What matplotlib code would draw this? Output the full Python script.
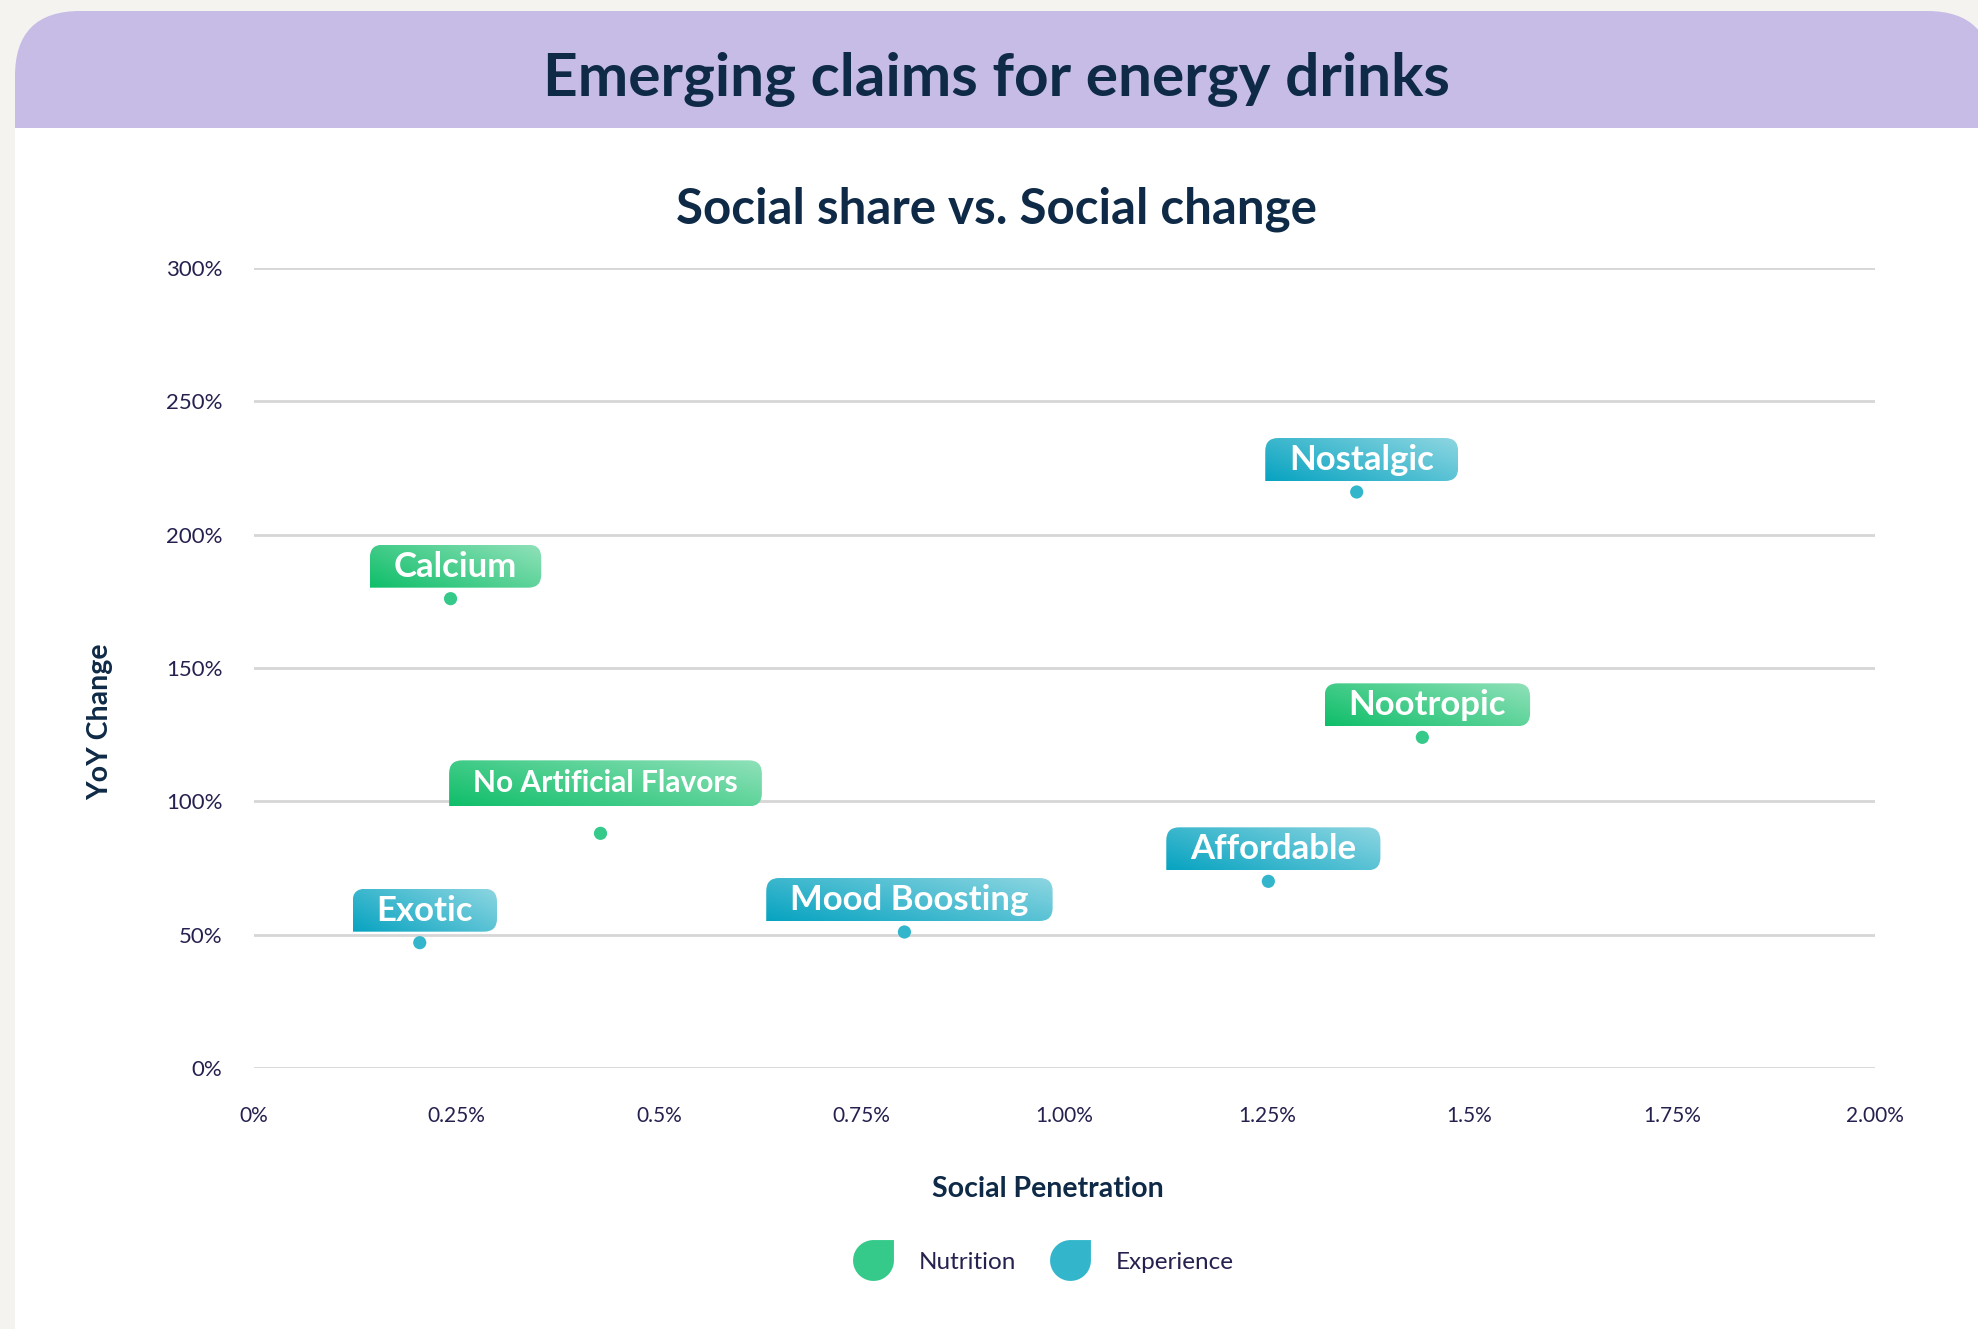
import numpy as np
import matplotlib
matplotlib.use('Agg')
import matplotlib.pyplot as plt
from matplotlib.path import Path
from matplotlib.patches import PathPatch, FancyBboxPatch, Rectangle
from matplotlib.colors import LinearSegmentedColormap
from matplotlib.lines import Line2D
from matplotlib.markers import MarkerStyle

plt.rcParams['font.family'] = ['Lato', 'DejaVu Sans']

# --- data ---
claims = ['Calcium', 'Nootropic', 'No Artificial Flavors',
          'Nostalgic', 'Affordable', 'Mood Boosting', 'Exotic']
groups = ['Nutrition', 'Nutrition', 'Nutrition',
          'Experience', 'Experience', 'Experience', 'Experience']
penetration = [0.243, 1.442, 0.428, 1.361, 1.252, 0.803, 0.205]   # social penetration, %
yoy_change = [176, 124, 88, 216, 70, 51, 47]                       # YoY change, %

x_ticks = [0, 0.25, 0.5, 0.75, 1.0, 1.25, 1.5, 1.75, 2.0]
x_ticklabels = ['0%', '0.25%', '0.5%', '0.75%', '1.00%', '1.25%', '1.5%', '1.75%', '2.00%']
y_ticks = [0, 50, 100, 150, 200, 250, 300]
y_ticklabels = ['0%', '50%', '100%', '150%', '200%', '250%', '300%']

# --- styling ---
NAVY = '#0e2a47'
INK = '#25214f'
colors = {'Nutrition': ('#0fbe69', '#90e1b9', '#35c98a'),
          'Experience': ('#07a3c1', '#8dd6e1', '#33b6cc')}
W, H = 1978, 1329

fig = plt.figure(figsize=(W / 100, H / 100), dpi=100, facecolor='#f4f3ef')

# background panel + header band (pixel coordinates)
bg = fig.add_axes([0, 0, 1, 1], zorder=0)
bg.set_xlim(0, W); bg.set_ylim(0, H); bg.set_axis_off()
bg.add_patch(FancyBboxPatch((15, 1100), 1977, 218, boxstyle='round,pad=0,rounding_size=65',
                            fc='#c6bce6', ec='none'))
bg.add_patch(Rectangle((15, -10), 2000, 1211, fc='white', ec='none'))

fig.text(996 / W, (H - 96) / H, 'Emerging claims for energy drinks', ha='center', va='baseline',
         fontsize=43.5, fontweight='bold', color=NAVY)
fig.text(996 / W, (H - 223) / H, 'Social share vs. Social change', ha='center', va='baseline',
         fontsize=35.5, fontweight='bold', color=NAVY)

# main axes
ax = fig.add_axes([253.6 / W, 261 / H, 1621 / W, 800 / H], zorder=1)
ax.set_facecolor('none')
ax.set_xlim(0, 2.0)
ax.set_ylim(0, 300)
for s in ax.spines.values():
    s.set_visible(False)
ax.set_yticks(y_ticks)
ax.set_yticklabels(y_ticklabels)
ax.set_xticks(x_ticks)
ax.set_xticklabels(x_ticklabels)
ax.tick_params(axis='y', length=0, pad=22.5, labelsize=16, labelcolor=INK)
ax.tick_params(axis='x', length=0, pad=27, labelsize=15, labelcolor=INK)
ax.grid(axis='y', color='#d6d6d6', lw=2.0)
ax.grid(axis='x', visible=False)
ax.set_axisbelow(True)

ax.set_xlabel('Social Penetration', fontsize=20.5, fontweight='bold', color=NAVY)
ax.xaxis.set_label_coords((1048 - 253.6) / 1621, (132 - 261) / 800)
ax.xaxis.label.set_va('baseline')
ax.set_ylabel('YoY Change', fontsize=20.5, fontweight='bold', color=NAVY)
ax.yaxis.set_label_coords((100 - 253.6) / 1621, (607 - 261) / 800)
ax.yaxis.label.set_va('center')

for g in ['Nutrition', 'Experience']:
    xs = [p for p, gg in zip(penetration, groups) if gg == g]
    ys = [v for v, gg in zip(yoy_change, groups) if gg == g]
    ax.scatter(xs, ys, s=90, color=colors[g][2], edgecolors='none', zorder=3, clip_on=False)

# overlay for the tag-shaped labels with gradient fill
ov = fig.add_axes([0, 0, 1, 1], zorder=2)
ov.set_xlim(0, W); ov.set_ylim(0, H); ov.set_axis_off()
ov.set_autoscale_on(False)


def tag_path(x0, y0, w, h, r):
    x1, y1 = x0 + w, y0 + h
    verts = [(x0, y0), (x1 - r, y0), (x1, y0), (x1, y0 + r), (x1, y1 - r), (x1, y1), (x1 - r, y1),
             (x0 + r, y1), (x0, y1), (x0, y1 - r), (x0, y0)]
    codes = [Path.MOVETO, Path.LINETO, Path.CURVE3, Path.CURVE3, Path.LINETO, Path.CURVE3, Path.CURVE3,
             Path.LINETO, Path.CURVE3, Path.CURVE3, Path.CLOSEPOLY]
    return Path(verts, codes)


uu, vv = np.meshgrid(np.linspace(0, 1, 200), np.linspace(0, 1, 50))
grad = 0.62 * uu + 0.38 * vv
renderer = fig.canvas.get_renderer()
small = {'No Artificial Flavors'}

for name, g, xv, yv in zip(claims, groups, penetration, yoy_change):
    px, py = ax.transData.transform((xv, yv))
    fs = 21.5 if name in small else 25
    h = 46 if name in small else 43
    lift = 27 if name in small else 11
    t = ov.text(px + 5, 0, name, ha='center', va='baseline', fontsize=fs, fontweight='bold',
                color='white', zorder=5)
    tw = t.get_window_extent(renderer).width
    w = tw + 2 * 24
    x0 = px + 5 - w / 2
    y0 = py + lift
    t.set_y(y0 + (14 if name in small else 11))
    patch = PathPatch(tag_path(x0, y0, w, h, 13), fc='none', ec='none')
    ov.add_patch(patch)
    cmap = LinearSegmentedColormap.from_list(g, colors[g][:2])
    im = ov.imshow(grad, cmap=cmap, extent=[x0, x0 + w, y0, y0 + h], origin='lower',
                   aspect='auto', interpolation='bilinear', zorder=4)
    im.set_clip_path(patch)

ov.set_xlim(0, W); ov.set_ylim(0, H)

# legend with leaf-shaped markers
arc = Path.arc(90, 360)
leaf = Path(np.concatenate([arc.vertices, [[1, 1], [0, 1]]]),
            np.concatenate([arc.codes, [Path.LINETO, Path.CLOSEPOLY]]))
handles = [Line2D([], [], ls='none', marker=MarkerStyle(leaf), markersize=30,
                  markerfacecolor=colors[g][2], markeredgecolor='none', label=g)
           for g in ['Nutrition', 'Experience']]
fig.legend(handles=handles, loc='center', bbox_to_anchor=(1041 / W, 67 / H), ncol=2,
           frameon=False, fontsize=17.5, labelcolor=INK, handlelength=2.0,
           handletextpad=0.9, columnspacing=1.2)

fig.savefig('out.png', dpi=100, facecolor=fig.get_facecolor())
